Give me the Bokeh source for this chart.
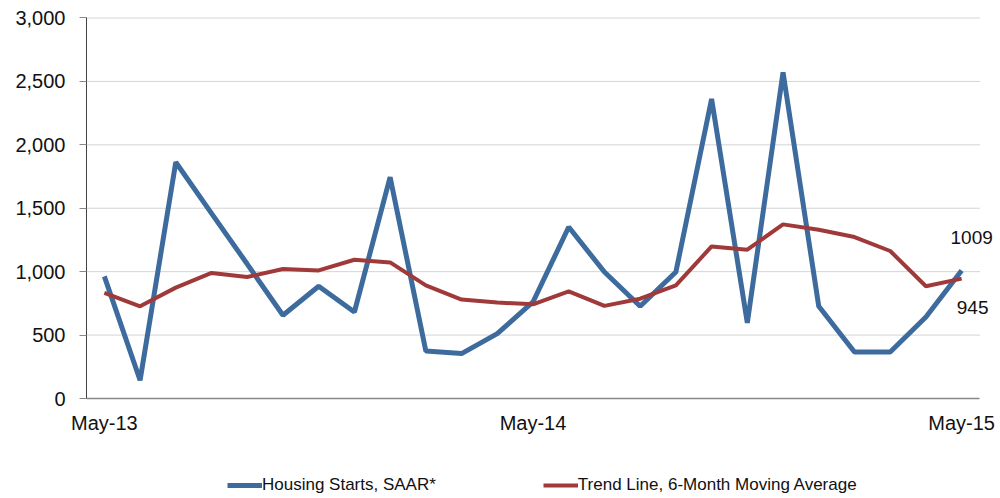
from bokeh.plotting import figure
from bokeh.models import (ColumnDataSource, Range1d, FixedTicker, Legend, LegendItem,
                          Label, NumeralTickFormatter, CustomJSTickFormatter)
from bokeh.embed import file_html
from bokeh.resources import INLINE

months = ["May-13", "Jun-13", "Jul-13", "Aug-13", "Sep-13", "Oct-13", "Nov-13", "Dec-13",
          "Jan-14", "Feb-14", "Mar-14", "Apr-14", "May-14", "Jun-14", "Jul-14", "Aug-14",
          "Sep-14", "Oct-14", "Nov-14", "Dec-14", "Jan-15", "Feb-15", "Mar-15", "Apr-15", "May-15"]
housing_starts = [963, 144, 1863, 1460, 1060, 656, 885, 682, 1745, 375, 354, 512, 761,
                  1352, 997, 727, 997, 2362, 596, 2572, 727, 367, 367, 643, 1009]
trend_line = [832, 727, 874, 990, 958, 1021, 1010, 1094, 1073, 892, 780, 756, 743,
              845, 730, 787, 892, 1199, 1173, 1373, 1331, 1273, 1163, 885, 945]
shown_ticks = ["May-13", "May-14", "May-15"]
y_ticks = [0, 500, 1000, 1500, 2000, 2500, 3000]

FONT = "Liberation Sans"
BLUE = "#3E6B9E"
RED = "#A03A3A"

idx = list(range(len(months)))
src = ColumnDataSource(dict(x=idx, hs=housing_starts, tr=trend_line, m=months))

# category slots run from -0.5 to n-0.5; the frame is padded around them
x_lo, x_hi = -0.5, len(months) - 0.5
y_lo, y_hi = y_ticks[0], y_ticks[-1]

W, H = 998, 497
p = figure(width=W, height=H, output_backend="svg", toolbar_location=None,
           x_range=Range1d(-2.9076, 25.032), y_range=Range1d(-780.5, 3137.9),
           min_border_left=0, min_border_right=0, min_border_top=0, min_border_bottom=0)
p.outline_line_color = None
p.background_fill_color = "white"

# horizontal dotted grid, limited to the plotting area
grid_y = y_ticks[1:]
grid_src = ColumnDataSource(dict(x0=[x_lo] * len(grid_y), x1=[x_hi] * len(grid_y), y=grid_y))
p.segment(x0="x0", x1="x1", y0="y", y1="y", source=grid_src,
          line_color="#A8A8A8", line_dash="1 1", line_width=1)

r_hs = p.line("x", "hs", source=src, line_color=BLUE, line_width=5)
r_tr = p.line("x", "tr", source=src, line_color=RED, line_width=4)

# x axis drawn at value 0 inside the frame
p.xaxis.fixed_location = y_lo
p.xaxis.bounds = (x_lo, x_hi)
p.xaxis.ticker = FixedTicker(ticks=[months.index(t) for t in shown_ticks])
p.xaxis.formatter = CustomJSTickFormatter(args=dict(labels=months),
                                          code="return labels[Math.round(tick)];")
p.xaxis.major_tick_line_color = None
p.xaxis.minor_tick_line_color = None
p.xaxis.axis_line_color = "#888888"
p.xaxis.axis_line_width = 1.5
p.xaxis.major_label_standoff = 7
p.xaxis.major_label_text_font = FONT
p.xaxis.major_label_text_font_size = "20px"
p.xaxis.major_label_text_color = "#111111"

# y axis drawn at the left edge of the category slots
p.yaxis.fixed_location = x_lo
p.yaxis.bounds = (y_lo, y_hi)
p.yaxis.ticker = FixedTicker(ticks=y_ticks)
p.yaxis.formatter = NumeralTickFormatter(format="0,0")
p.yaxis.minor_tick_line_color = None
p.yaxis.major_tick_in = 0
p.yaxis.major_tick_out = 7
p.yaxis.major_tick_line_color = "#888888"
p.yaxis.axis_line_color = "#444444"
p.yaxis.axis_line_width = 1
p.yaxis.major_label_standoff = 14
p.yaxis.major_label_text_font = FONT
p.yaxis.major_label_text_font_size = "20px"
p.yaxis.major_label_text_color = "#111111"

p.xgrid.visible = False
p.ygrid.visible = False

# end-value labels
last = len(months) - 1
p.add_layout(Label(x=last, y=housing_starts[last], text=str(housing_starts[last]),
                   x_offset=10, y_offset=33, text_align="center", text_baseline="middle",
                   text_font=FONT, text_font_size="19px", text_color="#111111"))
p.add_layout(Label(x=last, y=trend_line[last], text=str(trend_line[last]),
                   x_offset=11, y_offset=-29, text_align="center", text_baseline="middle",
                   text_font=FONT, text_font_size="19px", text_color="#111111"))

legend = Legend(items=[LegendItem(label="Housing Starts, SAAR*", renderers=[r_hs]),
                       LegendItem(label="Trend Line, 6-Month Moving Average", renderers=[r_tr])],
                location=(227, 2), orientation="horizontal",
                glyph_width=35, glyph_height=20, label_height=20, label_standoff=0,
                spacing=107, padding=0, margin=0,
                border_line_color=None, background_fill_alpha=0,
                label_text_font=FONT, label_text_font_size="17px", label_text_color="#111111")
p.add_layout(legend, "center")

open("out.html", "w").write(file_html(p, INLINE))
